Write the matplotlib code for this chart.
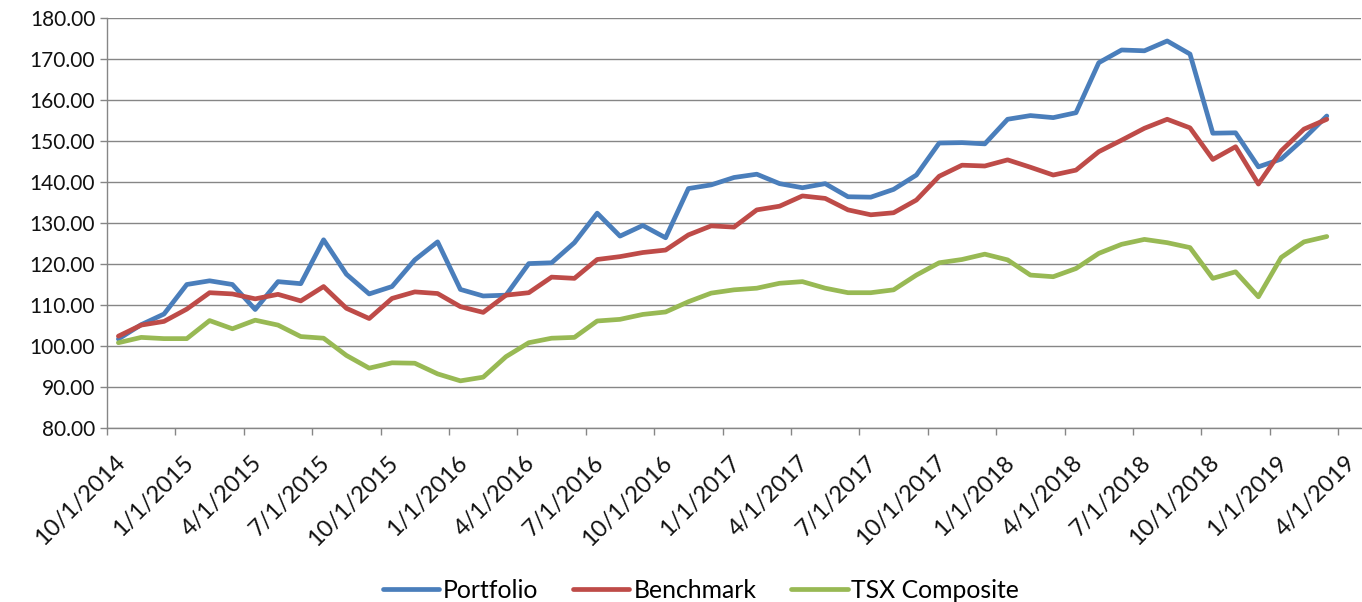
import matplotlib
matplotlib.use("Agg")
import matplotlib.pyplot as plt
import matplotlib.transforms as mtransforms
import numpy as np

# valores mensais (out/2014 a mar/2019)
portfolio = [101.7, 105.2, 107.8, 115.0, 115.9, 115.0, 108.9, 115.7, 115.2, 125.9,
             117.5, 112.7, 114.5, 121.0, 125.4, 113.8, 112.2, 112.4, 120.1, 120.3,
             125.2, 132.4, 126.8, 129.4, 126.4, 138.4, 139.3, 141.1, 141.9, 139.6,
             138.6, 139.6, 136.4, 136.3, 138.2, 141.7, 149.5, 149.6, 149.3, 155.3,
             156.2, 155.7, 156.9, 169.1, 172.2, 172.0, 174.4, 171.2, 151.9, 152.0,
             143.7, 145.6, 150.6, 156.1]
benchmark = [102.4, 105.1, 106.0, 109.0, 113.0, 112.7, 111.5, 112.6, 111.0, 114.5,
             109.2, 106.7, 111.6, 113.2, 112.8, 109.6, 108.2, 112.4, 113.0, 116.8,
             116.5, 121.1, 121.8, 122.8, 123.4, 127.1, 129.3, 129.0, 133.2, 134.1,
             136.6, 136.0, 133.2, 132.0, 132.5, 135.6, 141.4, 144.1, 143.9, 145.4,
             143.6, 141.7, 142.9, 147.4, 150.2, 153.1, 155.3, 153.2, 145.5, 148.6,
             139.5, 147.6, 152.9, 155.3]
tsx = [100.8, 102.1, 101.8, 101.8, 106.2, 104.2, 106.3, 105.1, 102.3, 101.9,
       97.7, 94.6, 95.9, 95.8, 93.2, 91.5, 92.4, 97.4, 100.8, 101.9,
       102.1, 106.1, 106.5, 107.7, 108.3, 110.8, 112.9, 113.7, 114.1, 115.3,
       115.7, 114.1, 113.0, 113.0, 113.7, 117.3, 120.3, 121.1, 122.4, 121.0,
       117.3, 116.9, 118.9, 122.6, 124.8, 126.0, 125.2, 124.0, 116.5, 118.1,
       112.0, 121.6, 125.4, 126.7]
series_names = ['Portfolio', 'Benchmark', 'TSX Composite']
tick_labels = ['10/1/2014', '1/1/2015', '4/1/2015', '7/1/2015', '10/1/2015',
               '1/1/2016', '4/1/2016', '7/1/2016', '10/1/2016', '1/1/2017',
               '4/1/2017', '7/1/2017', '10/1/2017', '1/1/2018', '4/1/2018',
               '7/1/2018', '10/1/2018', '1/1/2019', '4/1/2019']

plt.rcParams['font.family'] = ['Lato', 'DejaVu Sans']

gray = '#868686'
colors = ['#4A7EBB', '#BE4B48', '#98B954']

fig = plt.figure(figsize=(13.62, 6.02), dpi=100)
ax = fig.add_axes([107 / 1362, 1 - 428 / 602, 1254 / 1362, 410 / 602])

# cada ponto fica no meio do mês
x = np.arange(len(portfolio)) + 0.5
for vals, name, c in zip([portfolio, benchmark, tsx], series_names, colors):
    ax.plot(x, vals, color=c, lw=3.4, label=name, solid_capstyle='round',
            solid_joinstyle='round', zorder=3)

ax.set_xlim(0, 55)
ax.set_ylim(80, 180)
ax.set_yticks(np.arange(80, 181, 10))
ax.set_yticklabels([f'{v:.2f}' for v in np.arange(80, 181, 10)])
ax.set_xticks(np.arange(len(tick_labels)) * 3)
ax.set_xticklabels(tick_labels, rotation=45, ha='right', va='top')

ax.grid(axis='y', color=gray, lw=1.0)
ax.set_axisbelow(True)
for s in ['top', 'right']:
    ax.spines[s].set_visible(False)
for s in ['left', 'bottom']:
    ax.spines[s].set_color(gray)
    ax.spines[s].set_linewidth(1.0)
ax.tick_params(axis='both', colors=gray, length=5, width=1.0, labelsize=15,
               labelcolor='#111111')
ax.tick_params(axis='x', labelsize=17)

# desloca os rótulos de data para a direita e para baixo, como no original
offset = mtransforms.ScaledTranslation(22 / 100, -12 / 100, fig.dpi_scale_trans)
for lab in ax.get_xticklabels():
    lab.set_transform(lab.get_transform() + offset)

fig.legend(loc='center', bbox_to_anchor=(701 / 1362, 1 - 590 / 602), ncol=3,
           frameon=False, fontsize=17.8, handlelength=2.27, columnspacing=1.42,
           handletextpad=0.16)

plt.savefig('out.png', dpi=100)
plt.close(fig)
